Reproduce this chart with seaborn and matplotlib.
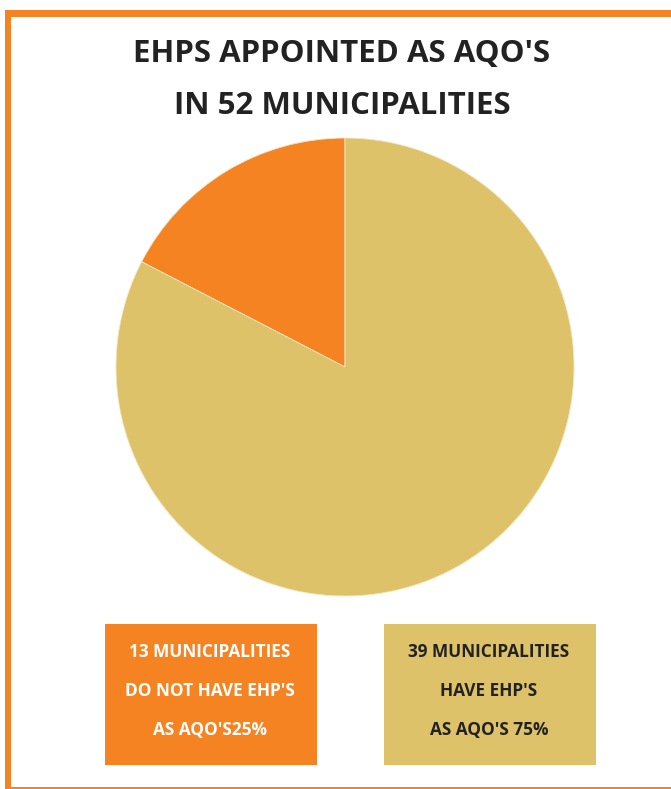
import matplotlib
matplotlib.use("Agg")
import matplotlib.pyplot as plt
from matplotlib.patches import Rectangle
import seaborn as sns

# ---- data ----
categories = ["Do not have EHP's as AQO's", "Have EHP's as AQO's"]
slice_values = [17.4, 82.6]          # angular shares as drawn in the picture
colors = ["#F58322", "#DDC26A"]
title_lines = ["EHPS APPOINTED AS AQO'S", "IN 52 MUNICIPALITIES"]
box_texts = [
    ["13 MUNICIPALITIES", "DO NOT HAVE EHP'S", "AS AQO'S25%"],
    ["39 MUNICIPALITIES", "HAVE EHP'S", "AS AQO'S 75%"],
]
box_text_colors = ["white", "#222222"]

sns.set_theme(style="white")
plt.rcParams["font.family"] = ["Open Sans", "DejaVu Sans"]

W, H = 671, 789
fig = plt.figure(figsize=(W / 100, H / 100), dpi=100)
fig.patch.set_facecolor("white")

# overlay axes in pixel coordinates
ax0 = fig.add_axes([0, 0, 1, 1])
ax0.set_xlim(0, W)
ax0.set_ylim(H, 0)
ax0.axis("off")

orange = colors[0]
# frame
ax0.add_patch(Rectangle((5, 10), W - 5, 7, color=orange, lw=0))
ax0.add_patch(Rectangle((5, 10), 6, H - 10, color=orange, lw=0))
ax0.add_patch(Rectangle((5, 787), W - 5, 2, color=orange, lw=0))

# title
ax0.text(342, 54, title_lines[0], ha="center", va="center", fontsize=22.5,
         fontweight="bold", color="#222222")
ax0.text(342, 106, title_lines[1], ha="center", va="center", fontsize=22.5,
         fontweight="bold", color="#222222")

# boxes
box_x = [105, 384]
for bx, col, lines, tc in zip(box_x, colors, box_texts, box_text_colors):
    ax0.add_patch(Rectangle((bx, 624), 212, 141, color=col, lw=0))
    for i, line in enumerate(lines):
        ax0.text(bx + 105, 652 + 39 * i, line, ha="center", va="center",
                 fontsize=12.4, fontweight="bold", color=tc)

# pie
cx, cy, r = 345, 367, 229
ax = fig.add_axes([(cx - r) / W, 1 - (cy + r) / H, 2 * r / W, 2 * r / H])
ax.pie(slice_values, colors=colors, startangle=90, counterclock=True,
       wedgeprops=dict(linewidth=0.6, edgecolor="#F5E6C0"))
ax.set_xlim(-1, 1)
ax.set_ylim(-1, 1)
ax.set_aspect("equal")
ax.axis("off")

fig.savefig("out.png", dpi=100, facecolor="white")
